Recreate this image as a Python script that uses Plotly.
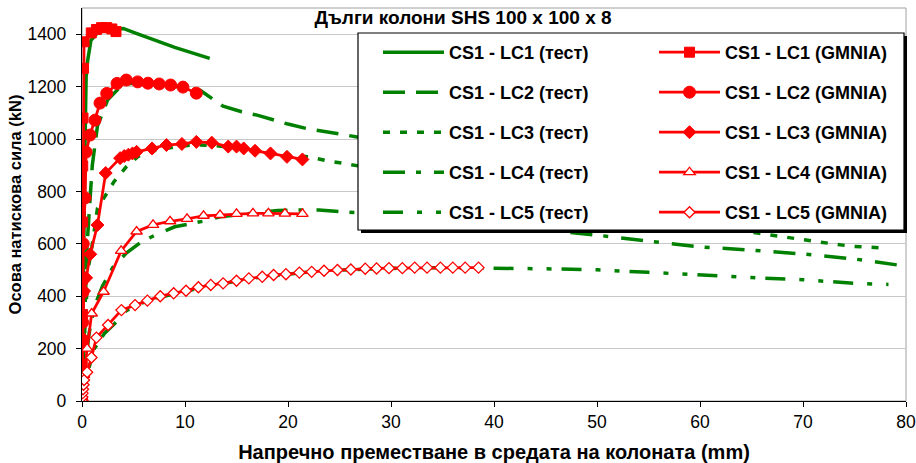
import plotly.graph_objects as go

# ---------------- data ----------------
x_label = "Напречно преместване в средата на колоната (mm)"
y_label = "Осова натискова сила (kN)"
title_text = "Дълги колони SHS 100 x 100 x 8"

y_ticks = [0, 200, 400, 600, 800, 1000, 1200, 1400]
x_ticks = [0, 10, 20, 30, 40, 50, 60, 70, 80]

test_names = ["CS1 - LC1 (тест)", "CS1 - LC2 (тест)", "CS1 - LC3 (тест)",
              "CS1 - LC4 (тест)", "CS1 - LC5 (тест)"]
gmnia_names = ["CS1 - LC1 (GMNIA)", "CS1 - LC2 (GMNIA)", "CS1 - LC3 (GMNIA)",
               "CS1 - LC4 (GMNIA)", "CS1 - LC5 (GMNIA)"]

t1_x = [0, 0.15, 0.3, 0.4, 0.55, 0.87, 1.5, 2.5, 4.0, 5.2, 6.6, 9.0, 12.4]
t1_y = [0, 600, 1000, 1237, 1300, 1377, 1405, 1418, 1422, 1404, 1385, 1350, 1308]

t2_x = [0, 0.5, 1.0, 1.5, 2.5, 4.0, 6.0, 8.0, 10.0, 11.5, 13.7, 15.5, 17.0, 18.9,
        20.0, 21.8, 23.5, 25.1, 26.7, 35, 45, 58]
t2_y = [0, 600, 900, 1050, 1150, 1210, 1215, 1208, 1195, 1185, 1125, 1104, 1091, 1069,
        1057, 1040, 1030, 1018, 1008, 930, 840, 750]

t3_x = [0, 0.3, 0.6, 0.95, 1.5, 2.3, 3.1, 4.3, 5.5, 7, 9, 11, 13, 15, 18, 20, 22,
        23.8, 26, 35, 45, 55, 65.6, 68, 71, 74.6, 77.8]
t3_y = [0, 300, 505, 585, 735, 786, 837, 894, 935, 955, 970, 978, 975, 965, 948, 938, 932,
        917, 903, 840, 770, 700, 641, 626, 610, 591, 584]

t4_x = [0, 0.3, 0.7, 1.2, 2.0, 3.0, 4.3, 5.8, 7.3, 9.0, 10.7, 12.0, 13.4, 15.0, 17.0,
        19.0, 21.0, 23.0, 25.2, 30, 40, 50, 55, 60, 65, 70, 75, 79.2]
t4_y = [0, 130, 260, 360, 440, 510, 565, 608, 637, 665, 678, 688, 703, 710, 720,
        727, 729, 729, 722, 712, 672, 633, 610, 588, 576, 561, 542, 519]

t5_x = [0, 0.3, 0.7, 1.2, 2.2, 3.2, 4.3, 5.8, 8, 10, 12, 14, 16, 18, 20, 22, 25, 28, 31,
        34, 38.5, 42, 46, 50, 55, 60, 65, 70, 75, 78.3]
t5_y = [0, 60, 130, 200, 259, 297, 345, 374, 400, 418, 436, 450, 465, 476, 485, 492, 500,
        505, 507, 509, 509, 506, 504, 501, 491, 480, 471, 463, 449, 445]

g1_x = [0, 0.02, 0.03, 0.04, 0.05, 0.06, 0.07, 0.1, 0.15, 0.2, 0.9, 1.4, 1.9, 2.4, 2.9, 3.3]
g1_y = [0, 140, 215, 330, 465, 683, 897, 1080, 1270, 1371, 1405, 1418, 1425, 1425, 1420, 1410]

g2_x = [0, 0.02, 0.04, 0.06, 0.08, 0.12, 0.3, 0.4, 0.78, 1.26, 1.75, 2.4, 3.4, 4.3, 5.4,
        6.4, 7.5, 8.6, 9.8, 11.1]
g2_y = [0, 100, 210, 300, 415, 600, 775, 950, 1015, 1072, 1137, 1174, 1212, 1225, 1218,
        1213, 1210, 1206, 1198, 1175]

g3_x = [0, 0.03, 0.07, 0.12, 0.2, 0.4, 0.8, 1.5, 2.3, 3.7, 4.1, 4.5, 4.9, 5.3, 6.8, 8.2,
        9.7, 11.1, 12.6, 14.2, 15.0, 15.7, 16.8, 18.3, 19.9, 21.4]
g3_y = [0, 120, 240, 330, 420, 470, 560, 672, 870, 927, 935, 940, 945, 951, 964, 977,
        981, 989, 986, 971, 971, 964, 955, 945, 932, 922]

g4_x = [0, 0.2, 0.5, 0.94, 2.1, 3.8, 5.3, 6.9, 8.55, 10.2, 11.8, 13.4, 15.0, 16.6, 18.1,
        19.7, 21.4]
g4_y = [0, 100, 200, 334, 417, 573, 647, 672, 686, 695, 707, 710, 714, 716, 716, 715, 714]

g5_x = [0, 0.03, 0.06, 0.1, 0.15, 0.2, 0.5, 0.92, 1.4, 2.53, 3.83, 5.15, 6.35, 7.6, 8.9,
        10.1, 11.3, 12.5, 13.7, 15.0, 16.2, 17.5, 18.6, 19.8, 21.1, 22.3, 23.5, 24.8,
        26.1, 27.5, 28.6, 29.8, 31.1, 32.3, 33.5, 34.8, 36.0, 37.2, 38.5]
g5_y = [0, 15, 30, 45, 62, 80, 110, 166, 242, 290, 347, 366, 383, 400, 411, 421, 434,
        443, 449, 459, 468, 474, 481, 484, 490, 493, 497, 500, 502, 505, 506, 507, 507,
        509, 509, 509, 509, 509, 509]

# ---------------- styles ----------------
GREEN = "#008000"
RED = "#FF0000"
FONT = "Liberation Sans, Arial, sans-serif"

test_dash = ["solid", "22px,11px", "7px,10px", "22px,11px,5px,13px",
             "20px,14px,5px,14px,5px,10px"]
gmnia_marker = [
    dict(symbol="square", size=10, color=RED, line=dict(color=RED, width=1)),
    dict(symbol="circle", size=12, color=RED, line=dict(color=RED, width=1)),
    dict(symbol="diamond", size=10, color=RED, line=dict(color=RED, width=1)),
    dict(symbol="triangle-up", size=10, color="white", line=dict(color=RED, width=1.3)),
    dict(symbol="diamond", size=8.5, color="white", line=dict(color=RED, width=1.3)),
]

tests = [(t1_x, t1_y), (t2_x, t2_y), (t3_x, t3_y), (t4_x, t4_y), (t5_x, t5_y)]
gmnias = [(g1_x, g1_y), (g2_x, g2_y), (g3_x, g3_y), (g4_x, g4_y), (g5_x, g5_y)]

fig = go.Figure()
for i, (xs, ys) in enumerate(tests):
    fig.add_trace(go.Scatter(
        x=xs, y=ys, mode="lines", name=test_names[i],
        line=dict(color=GREEN, width=3.5, dash=test_dash[i]),
        legend="legend", legendgroup="t%d" % i, hoverinfo="skip"))
for i, (xs, ys) in enumerate(gmnias):
    fig.add_trace(go.Scatter(
        x=xs, y=ys, mode="lines+markers", name=gmnia_names[i],
        line=dict(color=RED, width=2.75), marker=gmnia_marker[i],
        legend="legend2", legendgroup="g%d" % i, hoverinfo="skip"))

FW, FH = 916, 463
# plot area in window px: left 82, right 906, top 8, bottom 401
L, R, T, B = 82, 906, 8, 401
W, H = R - L, B - T


def px(xp):
    return (xp - L) / W


def py(yp):
    return (B - yp) / H


box_l, box_r, box_t, box_b = 358, 904, 33, 230
shapes = [
    dict(type="rect", xref="paper", yref="paper", x0=0, x1=1, y0=0, y1=1,
         line=dict(color="#a0a0a0", width=1), layer="below"),
    dict(type="rect", xref="paper", yref="paper",
         x0=px(box_l + 3), x1=px(box_r + 3), y0=py(box_b + 3), y1=py(box_t + 3),
         fillcolor="black", line=dict(width=0), layer="above"),
    dict(type="rect", xref="paper", yref="paper",
         x0=px(box_l), x1=px(box_r), y0=py(box_b), y1=py(box_t),
         fillcolor="white", line=dict(color="black", width=1.2), layer="above"),
]

legend_common = dict(
    bgcolor="rgba(0,0,0,0)", borderwidth=0,
    font=dict(family=FONT, size=18, color="black", weight="bold"),
    itemwidth=61, tracegroupgap=13.6, xanchor="left", yanchor="top",
    orientation="v", itemclick=False, itemdoubleclick=False)

fig.update_layout(
    width=FW, height=FH, autosize=False,
    margin=dict(l=L, r=FW - R, t=T, b=FH - B, autoexpand=False),
    paper_bgcolor="white", plot_bgcolor="white",
    font=dict(family=FONT, size=17.5, color="black"),
    showlegend=True, hovermode=False,
    legend=dict(x=px(378), y=py(34), **legend_common),
    legend2=dict(x=px(654), y=py(34), **legend_common),
    shapes=shapes,
    title=dict(text=title_text, x=463 / FW, xanchor="center", xref="container",
               y=1 - 17 / FH, yanchor="middle", yref="container",
               font=dict(family=FONT, size=19, color="black", weight="bold")),
    xaxis=dict(range=[0, 80], tickvals=x_ticks, ticks="outside", ticklen=5,
               tickcolor="black", showline=True, linecolor="black", linewidth=1.3,
               showgrid=False, zeroline=False, ticklabeloverflow="allow",
               automargin=False,
               tickfont=dict(family=FONT, size=17.5),
               title=dict(text=x_label, standoff=14,
                          font=dict(family=FONT, size=20, weight="bold"))),
    yaxis=dict(range=[0, 1500], tickvals=y_ticks, ticks="outside", ticklen=5,
               tickcolor="black", showline=True, linecolor="black", linewidth=1.3,
               showgrid=True, gridcolor="#c8c8c8", gridwidth=1, zeroline=False,
               ticklabelstandoff=6, automargin=False,
               tickfont=dict(family=FONT, size=17.5),
               title=dict(text=y_label, standoff=1,
                          font=dict(family=FONT, size=16.5, weight="bold"))),
)

fig.write_html(
    "out.html",
    config=dict(displayModeBar=False, responsive=False),
    post_script="document.body.style.margin='0';"
                "document.documentElement.style.overflow='hidden';")
